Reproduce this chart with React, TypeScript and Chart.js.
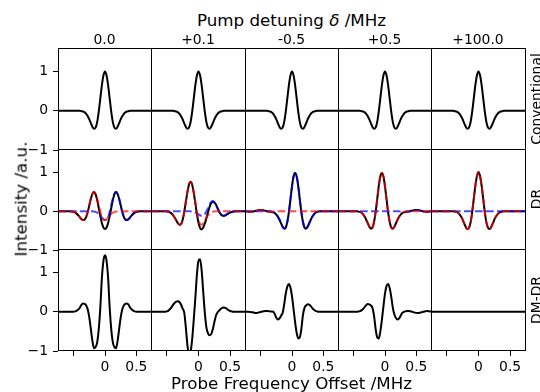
import React, { useEffect, useRef } from "react";
import { Chart, registerables } from "chart.js";
Chart.register(...registerables);

const FONT = "'DejaVu Sans', 'Liberation Sans', sans-serif";
Chart.defaults.font.family = FONT;
Chart.defaults.color = "#000";

// ---------- data ----------
const colTitles = ["0.0", "+0.1", "-0.5", "+0.5", "+100.0"];
const rowTitles = ["Conventional", "DR", "DM-DR"];
const xTickValues = [-0.5, 0, 0.5];
const xTickLabels = ["", "0", "0.5"];
const yTickValues = [-1, 0, 1];
const yTickLabels = ["\u22121", "0", "1"];

const xs = [-0.75,-0.725,-0.7,-0.675,-0.65,-0.625,-0.6,-0.575,-0.55,-0.525,-0.5,-0.475,-0.45,-0.425,-0.4,-0.375,-0.35,-0.325,-0.3,-0.275,-0.25,-0.225,-0.2,-0.175,-0.15,-0.125,-0.1,-0.075,-0.05,-0.025,0,0.025,0.05,0.075,0.1,0.125,0.15,0.175,0.2,0.225,0.25,0.275,0.3,0.325,0.35,0.375,0.4,0.425,0.45,0.475,0.5,0.525,0.55,0.575,0.6,0.625,0.65,0.675,0.7,0.725,0.75];

// Conventional row (same in every column)
const convY = [0,0,0,0,0, 0,0,0,0,0, 0,0,0,0,0,
  -0.01,-0.02,-0.04,-0.08,-0.14,-0.22,-0.32,-0.41,-0.46,-0.43,-0.29,-0.03,0.31,0.65,0.9,
  1,
  0.9,0.65,0.31,-0.03,-0.29,-0.43,-0.46,-0.41,-0.32,-0.22,-0.14,-0.08,-0.04,-0.02,-0.01,
  0,0,0,0,0, 0,0,0,0,0, 0,0,0,0,0];

// DR row
const drRed0 = [0,0,0,0,0, 0,0,0,
  -0.005,-0.01,-0.02,-0.04,-0.07,-0.11,-0.16,-0.205,-0.23,-0.215,-0.145,-0.015,0.155,0.325,0.45,
  0.5,
  0.45,0.325,0.155,-0.015,-0.145,-0.215,-0.23,-0.205,-0.16,-0.11,-0.07,-0.04,-0.02,-0.01,-0.005,
  0,0,0,0,0, 0,0,0,0,0, 0,0,0,0,0, 0,0,0,0,0, 0,0];
const drBlue0 = [0,0,0,0,0, 0,0,0,0,0, 0,0,0,0,0, 0,0,0,0,0, 0,0,
  -0.005,-0.01,-0.02,-0.04,-0.07,-0.11,-0.16,-0.205,-0.23,-0.215,-0.145,-0.015,0.155,0.325,0.45,
  0.5,
  0.45,0.325,0.155,-0.015,-0.145,-0.215,-0.23,-0.205,-0.16,-0.11,-0.07,-0.04,-0.02,-0.01,-0.005,
  0,0,0,0,0, 0,0,0];
const drBlack0 = [0,0,0,0,0, 0,0,0,
  -0.005,-0.01,-0.02,-0.04,-0.07,-0.11,-0.16,-0.205,-0.23,-0.215,-0.145,-0.015,0.155,0.325,0.445,0.49,0.43,0.285,0.085,-0.125,-0.305,-0.42,
  -0.46,
  -0.42,-0.305,-0.125,0.085,0.285,0.43,0.49,0.445,0.325,0.155,-0.015,-0.145,-0.215,-0.23,-0.205,-0.16,-0.11,-0.07,-0.04,-0.02,-0.01,-0.005,
  0,0,0,0,0, 0,0,0];

const drRed1 = [0,0,0,0,0, 0,0,0,0,0,
  -0.008,-0.015,-0.03,-0.06,-0.11,-0.17,-0.24,-0.31,-0.35,-0.33,-0.22,-0.02,0.24,0.49,0.69,
  0.76,
  0.69,0.49,0.24,-0.02,-0.22,-0.33,-0.35,-0.31,-0.24,-0.17,-0.11,-0.06,-0.03,-0.015,-0.008,
  0,0,0,0,0, 0,0,0,0,0, 0,0,0,0,0, 0,0,0,0,0];
const drBlue1 = [0,0,0,0,0, 0,0,0,0,0, 0,0,0,0,0, 0,0,0,0,0, 0,0,0,0,0,
  -0.005,-0.01,-0.02,-0.035,-0.055,-0.08,-0.105,-0.12,-0.11,-0.075,-0.01,0.08,0.17,0.235,
  0.26,
  0.235,0.17,0.08,-0.01,-0.075,-0.11,-0.12,-0.105,-0.08,-0.055,-0.035,-0.02,-0.01,-0.005,
  0,0,0,0,0, 0,0];
const drBlack1 = [0,0,0,0,0, 0,0,0,0,0,
  -0.008,-0.015,-0.03,-0.06,-0.11,-0.17,-0.24,-0.31,-0.35,-0.33,-0.22,-0.02,0.24,0.49,0.69,0.755,0.68,0.47,0.205,-0.075,
  -0.3,-0.435,-0.47,-0.42,-0.315,-0.18,-0.03,0.11,0.205,0.245,
  0.225,0.17,0.08,-0.01,-0.075,-0.11,-0.12,-0.105,-0.08,-0.055,-0.035,-0.02,-0.01,-0.005,
  0,0,0,0,0, 0,0];

const drRed2 = [-0.007,-0.01,-0.012,-0.014,-0.013,-0.009,-0.001,0.009,0.02,0.027,
  0.03,
  0.027,0.02,0.009,-0.001,-0.009,-0.013,-0.014,-0.012,-0.01,-0.007,-0.004,-0.002,-0.001,
  0,0,0,0,0, 0,0,0,0,0, 0,0,0,0,0, 0,0,0,0,0, 0,0,0,0,0, 0,0,0,0,0, 0,0,0,0,0, 0,0];
const drBlue2 = [0,0,0,0,0, 0,0,0,0,0, 0,0,0,0,0, 0,0,
  -0.01,-0.02,-0.04,-0.08,-0.14,-0.22,-0.31,-0.4,-0.45,-0.42,-0.28,-0.03,0.3,0.64,0.89,
  0.98,
  0.89,0.64,0.3,-0.03,-0.28,-0.42,-0.45,-0.4,-0.31,-0.22,-0.14,-0.08,-0.04,-0.02,-0.01,
  0,0,0,0,0, 0,0,0,0,0, 0,0,0];
const drBlack2 = [-0.007,-0.01,-0.012,-0.014,-0.013,-0.009,-0.001,0.009,0.02,0.027,0.03,0.027,0.02,0.009,-0.001,-0.009,-0.013,
  -0.024,-0.032,-0.05,-0.087,-0.144,-0.222,-0.311,
  -0.4,-0.45,-0.42,-0.28,-0.03,0.3,0.64,0.89,
  0.98,
  0.89,0.64,0.3,-0.03,-0.28,-0.42,-0.45,-0.4,-0.31,-0.22,-0.14,-0.08,-0.04,-0.02,-0.01,
  0,0,0,0,0, 0,0,0,0,0, 0,0,0];

const drRed3 = [0,0,0,0,0, 0,0,0,0,0, 0,0,0,
  -0.01,-0.02,-0.04,-0.08,-0.14,-0.22,-0.31,-0.4,-0.45,-0.42,-0.28,-0.03,0.3,0.64,0.89,
  0.98,
  0.89,0.64,0.3,-0.03,-0.28,-0.42,-0.45,-0.4,-0.31,-0.22,-0.14,-0.08,-0.04,-0.02,-0.01,
  0,0,0,0,0, 0,0,0,0,0, 0,0,0,0,0, 0,0];
const drBlue3 = [0,0,0,0,0, 0,0,0,0,0, 0,0,0,0,0, 0,0,0,0,0, 0,0,0,0,0, 0,0,0,0,0, 0,0,0,0,0, 0,0,
  -0.001,-0.002,-0.004,-0.007,-0.01,-0.012,-0.014,-0.013,-0.009,-0.001,0.009,0.02,0.027,
  0.03,
  0.027,0.02,0.009,-0.001,-0.009,-0.013,-0.014,-0.012,-0.01,-0.007];
const drBlack3 = [0,0,0,0,0, 0,0,0,0,0, 0,0,0,
  -0.01,-0.02,-0.04,-0.08,-0.14,-0.22,-0.31,-0.4,-0.45,-0.42,-0.28,-0.03,0.3,0.64,0.89,
  0.98,
  0.89,0.64,0.3,-0.03,-0.28,-0.42,-0.45,-0.4,
  -0.311,-0.222,-0.144,-0.087,-0.05,-0.032,-0.024,
  -0.013,-0.009,-0.001,0.009,0.02,0.027,0.03,0.027,0.02,0.009,-0.001,-0.009,-0.013,-0.014,-0.012,-0.01,-0.007];

const drRed4 = [0,0,0,0,0, 0,0,0,0,0, 0,0,0,0,0,
  -0.01,-0.02,-0.04,-0.08,-0.14,-0.22,-0.32,-0.41,-0.46,-0.43,-0.29,-0.03,0.31,0.65,0.9,
  1.01,
  0.9,0.65,0.31,-0.03,-0.29,-0.43,-0.46,-0.41,-0.32,-0.22,-0.14,-0.08,-0.04,-0.02,-0.01,
  0,0,0,0,0, 0,0,0,0,0, 0,0,0,0,0];
const drBlue4 = [0,0,0,0,0, 0,0,0,0,0, 0,0,0,0,0, 0,0,0,0,0, 0,0,0,0,0, 0,0,0,0,0,
  0,0,0,0,0, 0,0,0,0,0, 0,0,0,0,0, 0,0,0,0,0, 0,0,0,0,0, 0,0,0,0,0, 0];
const drBlack4 = [0,0,0,0,0, 0,0,0,0,0, 0,0,0,0,0,
  -0.01,-0.02,-0.04,-0.08,-0.14,-0.22,-0.32,-0.41,-0.46,-0.43,-0.29,-0.03,0.31,0.65,0.9,
  1.01,
  0.9,0.65,0.31,-0.03,-0.29,-0.43,-0.46,-0.41,-0.32,-0.22,-0.14,-0.08,-0.04,-0.02,-0.01,
  0,0,0,0,0, 0,0,0,0,0, 0,0,0,0,0];

// DM-DR row
const dm0 = [0,0,0,0,0, 0,0,0,0,0, 0,
  0.01,0.03,0.06,0.11,0.18,0.21,0.2,0.16,0.06,-0.15,-0.45,-0.75,-0.93,-0.9,-0.78,-0.45,0.1,0.85,1.3,
  1.44,
  1.3,0.85,0.1,-0.45,-0.78,-0.9,-0.93,-0.75,-0.45,-0.15,0.06,0.16,0.2,0.21,0.18,0.11,0.06,0.03,0.01,
  0,0,0,0,0, 0,0,0,0,0, 0];
const dm1 = [0,0,0,0,0, 0,0,0,0,0,
  0.01,0.03,0.07,0.12,0.18,0.23,0.26,0.27,0.25,0.18,
  0.08,-0.02,-0.4,-0.85,-1.1,-1.02,-0.7,-0.2,0.35,0.95,
  1.3,1.34,1.05,0.5,-0.03,-0.4,-0.55,-0.6,-0.57,-0.45,
  -0.27,-0.1,-0.02,0.03,0.07,0.1,0.11,0.1,0.07,0.04,
  0.02,0.01,
  0,0,0,0,0, 0,0,0,0];
const dm2 = [0,0,0,-0.005,-0.01,-0.015,-0.025,-0.03,-0.025,-0.015,
  -0.005,0.005,0.015,0.02,0.02,0.015,0.01,0.005,0,-0.06,
  -0.15,-0.2,-0.17,-0.1,-0.03,0.18,0.46,0.64,0.71,0.62,
  0.39,0.07,-0.27,-0.54,-0.68,-0.65,-0.43,-0.08,0.1,0.16,
  0.19,0.18,0.14,0.09,0.05,0.025,0.01,
  0,0,0,0,0, 0,0,0,0,0, 0,0,0,0];
const dm3 = [0,0,0,0,0, 0,0,0,0,0, 0,0,0,
  0.005,0.015,0.035,0.07,0.12,0.17,0.2,
  0.19,0.16,0.1,-0.1,-0.43,-0.65,-0.68,-0.51,-0.21,0.14,
  0.46,0.66,0.71,0.6,0.38,0.1,-0.07,-0.16,-0.2,-0.17,
  -0.1,-0.03,0,0.01,0.02,0.02,0.015,0.005,-0.01,-0.02,
  -0.028,-0.03,-0.025,-0.015,-0.005,0.005,0.015,0.02,0.015,0.005,
  0];
const dm4 = [0,0,0,0,0, 0,0,0,0,0, 0,0,0,0,0, 0,0,0,0,0, 0,0,0,0,0, 0,0,0,0,0,
  0,0,0,0,0, 0,0,0,0,0, 0,0,0,0,0, 0,0,0,0,0, 0,0,0,0,0, 0,0,0,0,0, 0];

// ---------- layout ----------
const colX = [58, 151, 245, 338, 431, 525];
const rowY = [48, 149, 249, 350];

type Kind = "black" | "red" | "blue";
type Line = { data: number[]; kind: Kind };
type PanelDef = { row: number; col: number; lines: Line[] };

const drSets: [number[], number[], number[]][] = [
  [drRed0, drBlue0, drBlack0],
  [drRed1, drBlue1, drBlack1],
  [drRed2, drBlue2, drBlack2],
  [drRed3, drBlue3, drBlack3],
  [drRed4, drBlue4, drBlack4],
];
const dmSets = [dm0, dm1, dm2, dm3, dm4];

const panels: PanelDef[] = [];
for (let c = 0; c < 5; c++) panels.push({ row: 0, col: c, lines: [{ data: convY, kind: "black" }] });
for (let c = 0; c < 5; c++) {
  const [r, b, k] = drSets[c];
  panels.push({ row: 1, col: c, lines: [
    { data: r, kind: "red" },
    { data: b, kind: "blue" },
    { data: k, kind: "black" },
  ] });
}
for (let c = 0; c < 5; c++) panels.push({ row: 2, col: c, lines: [{ data: dmSets[c], kind: "black" }] });

const styleOf = (kind: Kind) => {
  if (kind === "red") return { borderColor: "rgba(255,0,0,0.7)", borderDash: [7.7, 3.3] };
  if (kind === "blue") return { borderColor: "rgba(0,0,255,0.7)", borderDash: [7.7, 3.3] };
  return { borderColor: "#000", borderDash: [] as number[] };
};

const framePlugin = {
  id: "frame",
  afterDatasetsDraw(chart: any) {
    const { ctx, chartArea } = chart;
    const { left, top, right, bottom } = chartArea;
    ctx.save();
    ctx.strokeStyle = "#000";
    ctx.lineWidth = 1;
    ctx.setLineDash([]);
    ctx.strokeRect(left + 0.5, top + 0.5, right - left - 1, bottom - top - 1);
    ctx.restore();
  },
};

const PAD = 18;

function Panel({ row, col, lines }: PanelDef) {
  const ref = useRef<HTMLCanvasElement | null>(null);
  const isLeft = col === 0;
  const isBottom = row === 2;
  const pw = colX[col + 1] - colX[col] + 1;
  const ph = rowY[row + 1] - rowY[row] + 1;
  const padTop = PAD;
  const padBottom = isBottom ? 0 : PAD;
  const axisW = isLeft ? colX[0] : 0;
  const axisH = isBottom ? 32 : 0;
  const w = axisW + pw;
  const h = padTop + ph + padBottom + axisH;
  const left = isLeft ? 0 : colX[col];
  const top = rowY[row] - padTop;

  useEffect(() => {
    const canvas = ref.current;
    if (!canvas) return;
    const datasets = lines.map((ln) => ({
      data: xs.map((x, i) => ({ x, y: ln.data[i] })),
      ...styleOf(ln.kind),
      borderWidth: 2,
      pointRadius: 0,
      fill: false,
      cubicInterpolationMode: "monotone" as const,
      clip: 0,
    }));
    const chart = new Chart(canvas, {
      type: "line",
      data: { datasets },
      options: {
        responsive: false,
        animation: false,
        devicePixelRatio: 1,
        events: [],
        layout: { padding: { top: padTop, bottom: padBottom, left: 0, right: 0 }, autoPadding: false },
        plugins: { legend: { display: false }, tooltip: { enabled: false }, title: { display: false } },
        scales: {
          x: {
            type: "linear",
            min: -0.75,
            max: 0.75,
            display: isBottom,
            position: "bottom",
            afterBuildTicks: (ax: any) => { ax.ticks = xTickValues.map((v) => ({ value: v })); },
            afterFit: (ax: any) => { ax.height = axisH; },
            grid: { drawOnChartArea: false, drawTicks: true, tickLength: 5, color: "#000", lineWidth: 1 },
            border: { display: false },
            ticks: {
              autoSkip: false,
              maxRotation: 0,
              padding: 3,
              color: "#000",
              font: { family: FONT, size: 13.9 },
              callback: (v: any) => { const i = xTickValues.indexOf(Number(v)); return i >= 0 ? xTickLabels[i] : ""; },
            },
          },
          y: {
            type: "linear",
            min: -1,
            max: 1.6,
            display: isLeft,
            position: "left",
            afterBuildTicks: (ax: any) => { ax.ticks = yTickValues.map((v) => ({ value: v })); },
            afterFit: (ax: any) => { ax.width = axisW; },
            grid: { drawOnChartArea: false, drawTicks: true, tickLength: 5, color: "#000", lineWidth: 1 },
            border: { display: false },
            ticks: {
              autoSkip: false,
              padding: 5,
              color: "#000",
              font: { family: FONT, size: 13.9 },
              callback: (v: any) => { const i = yTickValues.indexOf(Number(v)); return i >= 0 ? yTickLabels[i] : ""; },
            },
          },
        },
      },
      plugins: [framePlugin],
    } as any);
    return () => chart.destroy();
  }, []);

  return (
    <canvas
      ref={ref}
      width={w}
      height={h}
      style={{ position: "absolute", left, top, width: w, height: h, display: "block" }}
    />
  );
}

function Text({ cx, cy, size, rotate, children }: { cx: number; cy: number; size: number; rotate?: boolean; children: any }) {
  return (
    <div
      style={{
        position: "absolute",
        left: cx,
        top: cy,
        transform: `translate(-50%, -50%)${rotate ? " rotate(-90deg)" : ""}`,
        fontSize: size,
        lineHeight: `${size}px`,
        whiteSpace: "nowrap",
        fontFamily: FONT,
        color: "#000",
      }}
    >
      {children}
    </div>
  );
}

export default function App() {
  return (
    <div
      style={{
        position: "fixed",
        left: 0,
        top: 0,
        width: 540,
        height: 392,
        background: "#fff",
        overflow: "hidden",
        fontFamily: FONT,
      }}
    >
      {panels.map((p) => (
        <Panel key={`${p.row}-${p.col}`} {...p} />
      ))}
      <Text cx={291.5} cy={20.2} size={16.7}>
        Pump detuning <span style={{ fontStyle: "italic" }}>δ</span> /MHz
      </Text>
      {colTitles.map((t, i) => (
        <Text key={"c" + i} cx={(colX[i] + colX[i + 1]) / 2} cy={40.2} size={13.9}>
          {t}
        </Text>
      ))}
      {rowTitles.map((t, i) => (
        <Text key={"r" + i} cx={537} cy={(rowY[i] + rowY[i + 1]) / 2} size={13.9} rotate>
          {t}
        </Text>
      ))}
      <Text cx={21.4} cy={199} size={16.7} rotate>
        Intensity /a.u.
      </Text>
      <Text cx={291.5} cy={383.1} size={16.7}>
        Probe Frequency Offset /MHz
      </Text>
    </div>
  );
}
